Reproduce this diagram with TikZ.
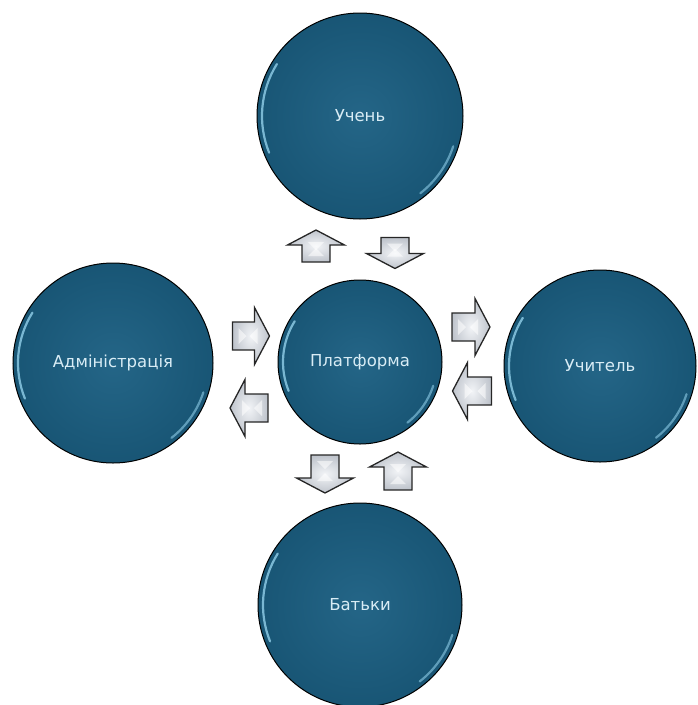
\documentclass[tikz,border=0pt]{standalone}
\usepackage{fontspec}
\setmainfont{DejaVu Sans}
\definecolor{discfill}{HTML}{1B5F82}
\definecolor{disctext}{HTML}{D8ECF5}
\definecolor{glarecol}{HTML}{9AD8F2}
\definecolor{arrowfill}{HTML}{BFC4CC}
\definecolor{arrowlight}{HTML}{F2F4F7}
\tikzset{
  disc/.style={circle, draw=black, line width=1pt, inner color=discfill!96!white, outer color=discfill!90!black,
    text=disctext, font=\fontsize{16.5}{18}\selectfont, inner sep=0pt},
  glare/.style={glarecol, line width=2.2pt, line cap=round, opacity=0.75},
  flowarrow/.style={draw=black!85, line width=1.3pt, line join=miter, inner color=arrowlight, outer color=arrowfill}
}
\newcommand\glarearcs[2]{%
  \draw[glare] (#1.center) ++(148:#2) arc[start angle=148,end angle=202,radius=#2];
  \draw[glare, opacity=0.55] (#1.center) ++(-18:#2) arc[start angle=-18,end angle=-52,radius=#2];
}
% x, y, rotation, length
\newcommand\bigarrow[4]{%
  \begin{scope}[shift={(#1,#2)}, rotate=#3]
    \draw[flowarrow] (-#4/2,-14) -- (#4/2-15,-14) -- (#4/2-15,-28.5) -- (#4/2,0)
      -- (#4/2-15,28.5) -- (#4/2-15,14) -- (-#4/2,14) -- cycle;
    \fill[white, opacity=0.55] (-#4/2+6,-8) -- (-#4/2+14,0) -- (-#4/2+6,8) -- cycle;
    \fill[white, opacity=0.55] (#4/2-12,-8) -- (#4/2-20,0) -- (#4/2-12,8) -- cycle;
  \end{scope}}
\begin{document}
\begin{tikzpicture}[x=1pt,y=1pt]
\useasboundingbox (0,0) rectangle (697,-705);
\node[disc, minimum size=206pt] (pupil) at (360,-116) {Учень};
\node[disc, minimum size=164pt] (platform) at (360,-362) {Платформа};
\node[disc, minimum size=200pt] (admin) at (113,-363) {Адміністрація};
\node[disc, minimum size=192pt] (teacher) at (600,-366) {Учитель};
\node[disc, minimum size=204pt] (parents) at (360,-605) {Батьки};
\glarearcs{pupil}{98}
\glarearcs{platform}{77}
\glarearcs{admin}{95}
\glarearcs{teacher}{91}
\glarearcs{parents}{97}
% arrows
\bigarrow{316}{-246}{90}{32}
\bigarrow{395}{-253}{270}{31}
\bigarrow{251}{-336}{0}{37}
\bigarrow{249}{-408}{180}{38}
\bigarrow{471}{-327}{0}{38}
\bigarrow{472}{-391}{180}{39}
\bigarrow{325}{-474}{270}{38}
\bigarrow{398}{-471}{90}{38}
\end{tikzpicture}
\end{document}
